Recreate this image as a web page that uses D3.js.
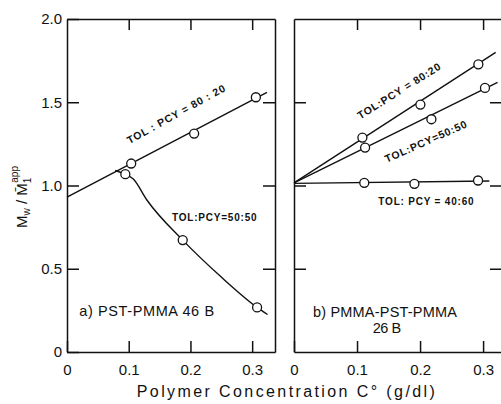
<!DOCTYPE html>
<html>
<head>
<meta charset="utf-8">
<script src="https://cdn.jsdelivr.net/npm/d3@7"></script>
<style>
  body { margin: 0; background: #fff; }
  svg { display: block; font-family: "Liberation Sans", Arial, sans-serif; }
  .axis path, .axis line { stroke: #111; stroke-width: 1.5; }
  .axis text { font-size: 15px; fill: #111; font-family: "Liberation Sans", Arial, sans-serif; }
</style>
</head>
<body>
<div id="chart"></div>
<script>
// values: [C (g/dl), Mw / M1app]
const xTicks = [0, 0.1, 0.2, 0.3];
const yTicks = [0, 0.5, 1.0, 1.5, 2.0];

// panel a) PST-PMMA 46B
const a8020Points = [[0.104, 1.132], [0.206, 1.312], [0.306, 1.53]];
const a8020Line = [[0, 0.93], [0.324, 1.56]];
const a5050Points = [[0.0945, 1.068], [0.1875, 0.672], [0.308, 0.268]];
const a5050Curve = [[0.078, 1.09], [0.0945, 1.068], [0.107, 1.04], [0.13, 0.91],
                    [0.1875, 0.672], [0.25, 0.45], [0.308, 0.268], [0.325, 0.225]];

// panel b) PMMA-PST-PMMA 26B
const b8020Points = [[0.1085, 1.288], [0.2005, 1.486], [0.2925, 1.728]];
const b8020Line = [[0, 1.016], [0.32, 1.80]];
const b5050Points = [[0.1128, 1.228], [0.218, 1.398], [0.303, 1.586]];
const b5050Line = [[0, 1.016], [0.323, 1.62]];
const b4060Points = [[0.1115, 1.016], [0.191, 1.01], [0.292, 1.03]];
const b4060Line = [[0, 1.013], [0.31, 1.027]];

const width = 501, height = 404;
const plotTop = 19, plotBottom = 352;

const svg = d3.select("#chart").append("svg")
    .attr("width", width)
    .attr("height", height);

const y = d3.scaleLinear().domain([0, 2]).range([plotBottom, plotTop]);

function drawPanel(x0, x1, xMax, showY) {
    const x = d3.scaleLinear().domain([0, xMax]).range([x0, x1]);
    const g = svg.append("g");

    // bottom axis, ticks pointing inward
    g.append("g").attr("class", "axis")
        .attr("transform", `translate(0,${plotBottom})`)
        .call(d3.axisBottom(x).tickValues(xTicks).tickSize(-11).tickSizeOuter(0).tickPadding(12)
            .tickFormat(d => d === 0 ? "0" : d3.format(".1f")(d)));
    // top
    g.append("g").attr("class", "axis")
        .attr("transform", `translate(0,${plotTop})`)
        .call(d3.axisTop(x).tickValues([0.1, 0.2, 0.3]).tickSize(-11).tickSizeOuter(0).tickFormat(""));
    // left
    g.append("g").attr("class", "axis")
        .attr("transform", `translate(${x0},0)`)
        .call(d3.axisLeft(y).tickValues(showY ? yTicks : [0.5, 1, 1.5]).tickSize(-12).tickSizeOuter(0).tickPadding(5)
            .tickFormat(showY ? (d => d === 0 ? "0" : d3.format(".1f")(d)) : ""));
    // right
    g.append("g").attr("class", "axis")
        .attr("transform", `translate(${x1},0)`)
        .call(d3.axisRight(y).tickValues([0.5, 1, 1.5]).tickSize(-12).tickSizeOuter(0).tickFormat(""));

    return { g, x };
}

const line = (x, curve) => d3.line().x(d => x(d[0])).y(d => y(d[1])).curve(curve || d3.curveLinear);

function drawSeries(p, lineData, points, curve) {
    p.g.append("path")
        .datum(lineData)
        .attr("d", line(p.x, curve))
        .attr("fill", "none")
        .attr("stroke", "#111")
        .attr("stroke-width", 1.4);
    p.g.selectAll(null)
        .data(points)
        .join("circle")
        .attr("cx", d => p.x(d[0]))
        .attr("cy", d => y(d[1]))
        .attr("r", 4.5)
        .attr("fill", "#fff")
        .attr("stroke", "#111")
        .attr("stroke-width", 1.3);
}

function label(p, xv, yv, txt, opts) {
    const o = Object.assign({ size: 10.5, rot: 0, anchor: "middle", spacing: 0.8, weight: "bold" }, opts);
    p.g.append("text")
        .attr("transform", `translate(${p.x(xv)},${y(yv)}) rotate(${o.rot})`)
        .attr("text-anchor", o.anchor)
        .attr("font-size", o.size)
        .attr("font-weight", o.weight)
        .attr("letter-spacing", o.spacing)
        .attr("fill", "#111")
        .text(txt);
}

// panel a
const pa = drawPanel(67, 275, 0.337, true);
drawSeries(pa, a8020Line, a8020Points);
drawSeries(pa, a5050Curve, a5050Points, d3.curveMonotoneX);
label(pa, 0.18, 1.41, "TOL : PCY = 80 : 20", { rot: -29 });
label(pa, 0.170, 0.786, "TOL:PCY=50:50", { anchor: "start", size: 10 });
label(pa, 0.02, 0.215, "a) PST-PMMA  46 B", { anchor: "start", size: 14.5, weight: "normal", spacing: 0.6 });

// panel b
const pb = drawPanel(294, 502, 0.33, false);
drawSeries(pb, b8020Line, b8020Points);
drawSeries(pb, b5050Line, b5050Points);
drawSeries(pb, b4060Line, b4060Points);
label(pb, 0.17, 1.55, "TOL:PCY = 80:20", { rot: -32 });
label(pb, 0.212, 1.245, "TOL:PCY=50:50", { rot: -24 });
label(pb, 0.21, 0.88, "TOL: PCY = 40:60", { size: 10 });
label(pb, 0.03, 0.21, "b) PMMA-PST-PMMA", { anchor: "start", size: 14.5, weight: "normal", spacing: 0.2 });
label(pb, 0.125, 0.115, "26 B", { anchor: "start", size: 14.5, weight: "normal", spacing: -0.5 });

// axis titles
svg.append("text")
    .attr("x", 287)
    .attr("y", 397)
    .attr("text-anchor", "middle")
    .attr("font-size", 16)
    .attr("letter-spacing", 2.4)
    .attr("fill", "#111")
    .text("Polymer  Concentration  C° (g/dl)");

const yt = svg.append("text")
    .attr("transform", "translate(27,197) rotate(-90)")
    .attr("text-anchor", "middle")
    .attr("font-size", 15)
    .attr("fill", "#111");
yt.append("tspan").text("M");
yt.append("tspan").attr("font-size", 10).attr("dy", 3).text("w");
yt.append("tspan").attr("dy", -3).text(" / M\u0304");
yt.append("tspan").attr("font-size", 10).attr("dy", 4).text("1");
yt.append("tspan").attr("font-size", 10).attr("dx", -5).attr("dy", -13).text("app");
</script>
</body>
</html>
